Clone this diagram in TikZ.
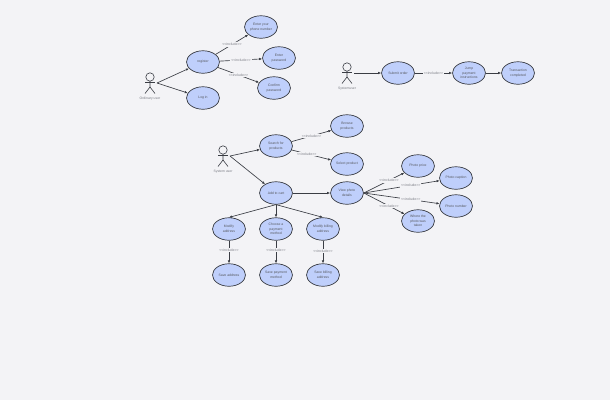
\documentclass[tikz,border=0pt]{standalone}
\usepackage{fontspec}
\setmainfont{Liberation Sans}
\usepackage{xcolor}
\usetikzlibrary{arrows.meta,shapes.geometric}
\definecolor{canvasgray}{HTML}{F3F3F6}
\definecolor{usecaseblue}{HTML}{BFCFFB}
\definecolor{inkgray}{HTML}{3A3D44}
\definecolor{notegray}{HTML}{7A7C84}
\newcommand{\includetag}{{<}{<}include{>}{>}}
\tikzset{
  usecase/.style={ellipse,draw=inkgray,fill=usecaseblue,line width=0.7pt,inner sep=0pt,
    minimum width=33pt,minimum height=22.5pt,align=center,text=notegray!70!black,
    font=\fontsize{3.4}{4.6}\selectfont},
  assoc/.style={-{Latex[length=3pt,width=2.6pt]},line width=0.65pt,inkgray},
  includenote/.style={fill=canvasgray,inner sep=1pt,text=notegray,font=\fontsize{3.5}{4}\selectfont},
  actorname/.style={text=notegray,inner sep=0pt,font=\fontsize{3.4}{4}\selectfont},
  stickline/.style={line width=0.6pt,inkgray}
}
\begin{document}
\begin{tikzpicture}[x=1pt,y=-1pt]
  \fill[canvasgray] (0,0) rectangle (610,400);
  \useasboundingbox (0,0) rectangle (610,400);
  % actors
  \foreach \actor/\px/\py/\who in {ordinary/150/77/Ordinary user,sysuser/347/67/Systemuser,shopper/223/150/System user}{
    \draw[stickline] (\px,\py) circle (4.2);
    \draw[stickline] (\px,\py+4.2) -- (\px,\py+10) -- (\px-5,\py+16.5);
    \draw[stickline] (\px,\py+10) -- (\px+5,\py+16.5);
    \draw[stickline] (\px-5,\py+5.5) -- (\px+5,\py+5.5);
    \node[actorname] (\actor name) at (\px,\py+22) {\who};
    \coordinate (\actor) at (\px+7,\py+6);
  }
  % use cases
  \foreach \name/\px/\py/\txt in {
    phone/261/27/{Enter your\\phone number},
    password/279/58/{Enter\\password},
    confirm/274/88/{Confirm\\password},
    register/203/62/{register},
    login/203/98/{Log in},
    submit/398/73/{Submit order},
    jump/469/73/{Jump\\payment\\instructions},
    done/518/73/{Transaction\\completed},
    search/276/146/{Search for\\products},
    browse/347/126/{Browse\\products},
    select/347/164/{Select product},
    cart/276/193/{Add to cart},
    view/347/193/{View photo\\details},
    price/418/166/{Photo price},
    caption/456/178/{Photo caption},
    number/456/206/{Photo number},
    where/418/221/{Where the\\photo was\\taken},
    modaddr/229/229/{Modify\\address},
    choose/276/229/{Choose a\\payment\\method},
    modbill/323/229/{Modify billing\\address},
    saveaddr/229/275/{Save address},
    savepay/276/275/{Save payment\\method},
    savebill/323/275/{Save billing\\address}}{
    \node[usecase] (\name) at (\px,\py) {\txt};
  }
  % plain links
  \foreach \from/\to in {ordinary/register,ordinary/login,sysuser/submit,jump/done,
    shopper/search,shopper/cart,cart/view}{
    \draw[assoc] (\from) -- (\to);
  }
  \foreach \to in {modaddr,choose,modbill}{
    \draw[assoc] (cart.south) -- (\to.north);
  }
  % include links
  \foreach \from/\to/\spot in {register/phone/0.5,register/password/0.5,register/confirm/0.5,submit/jump/0.5,
    search/browse/0.5,search/select/0.38,modaddr/saveaddr/0.42,choose/savepay/0.42,modbill/savebill/0.46}{
    \draw[assoc] (\from) -- node[includenote,pos=\spot] {\includetag} (\to);
  }
  \foreach \to in {price,caption,number,where}{
    \draw[assoc] (view.east) -- node[includenote,pos=0.62] {\includetag} (\to);
  }
\end{tikzpicture}
\end{document}
